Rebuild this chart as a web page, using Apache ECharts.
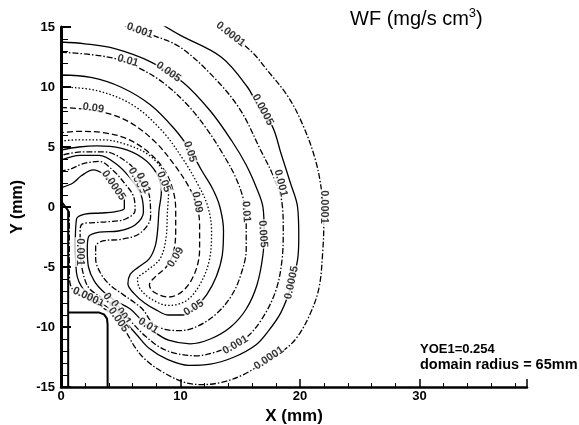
<!DOCTYPE html>
<html><head><meta charset="utf-8">
<script src="https://cdn.jsdelivr.net/npm/echarts@6/dist/echarts.min.js"></script>
<style>html,body{margin:0;padding:0;background:#fff}#c{width:579px;height:425px}</style>
</head><body><div id="c"></div>
<script>
// ---- data (mm) ----
var xTicks = [0, 10, 20, 30];
var yTicks = [-15, -10, -5, 0, 5, 10, 15];
var levels = ['0.0001', '0.0005', '0.001', '0.005', '0.01', '0.05', '0.07', '0.09'];

var c0001 = [[13.2,15.3],[14.5,14.2],[16.1,12.8],[17.1,11.6],[19.0,9.2],[20.3,6.7],[21.3,3.9],[21.8,1.4],[22.0,-1.1],[21.9,-3.8],[21.6,-6.7],[20.9,-8.8],[19.8,-10.8],[18.7,-11.9],[17.1,-12.9],[15.2,-14.0],[13.5,-14.6],[11.8,-14.8],[10.3,-14.6],[8.5,-13.75],[7.1,-12.75],[6.2,-11.7],[5.5,-10.5],[4.8,-9.5],[4.1,-8.8],[2.5,-7.8],[0.9,-6.75],[0.7,-5.5],[0.7,-3.0],[0.7,-0.3]];
var c0005 = [[8.3,15.3],[10.0,14.3],[13.4,12.5],[15.6,10.0],[16.6,8.2],[17.7,6.7],[18.4,4.5],[19.2,2.0],[19.8,0],[19.9,-2.5],[19.8,-4.4],[19.3,-6.5],[18.4,-8.8],[17.3,-10.4],[16.3,-11.5],[14.5,-12.5],[12.5,-13.1],[10.7,-13.2],[8.9,-12.7],[7.4,-11.8],[6.3,-10.6],[5.2,-9.4],[4.3,-8.6],[3.0,-7.8],[1.9,-6.9],[1.3,-5.5],[1.2,-3.0],[1.3,-1.0],[2.0,-0.6],[3.3,-0.5],[4.5,-0.4],[5.3,-0.1],[5.3,0.6],[4.5,1.7],[3.6,2.7],[2.7,3.1],[1.7,2.6],[1.0,2.0],[0,1.6]];
var c001 = [[5.0,15.3],[5.6,15.0],[7.7,14.3],[10.0,13.3],[12.8,10.8],[15.0,8.1],[16.7,4.75],[17.8,2.5],[18.5,0.3],[18.6,-1.9],[18.5,-4.4],[18.0,-6.9],[16.9,-9.2],[15.5,-10.9],[14.2,-11.6],[12.9,-12.1],[11.3,-12.4],[9.6,-12.2],[8.3,-11.7],[7.1,-10.8],[6.1,-9.8],[5.4,-9.0],[4.4,-8.2],[3.3,-7.5],[2.3,-6.7],[1.8,-5.3],[1.6,-3.7],[1.6,-1.9],[1.8,-1.4],[2.8,-1.3],[4.2,-1.2],[5.4,-1.0],[6.2,-0.3],[6.1,0.8],[5.3,2.0],[4.3,3.1],[3.2,3.8],[1.8,3.6],[0.9,3.2],[0,3.0]];
var c005 = [[0,13.75],[2.0,13.6],[4.5,13.2],[7.5,12.1],[10.2,10.4],[12.5,8.0],[14.3,5.5],[15.5,3.5],[16.4,1.5],[16.9,0],[17.0,-2.0],[16.9,-4.0],[16.4,-6.5],[15.5,-8.5],[14.2,-10.0],[12.5,-11.0],[10.8,-11.4],[9.0,-11.1],[7.8,-10.4],[6.8,-9.5],[5.8,-8.5],[4.7,-7.9],[3.6,-7.1],[2.8,-6.2],[2.3,-5.0],[2.2,-3.5],[2.3,-2.5],[3.2,-2.1],[4.8,-2.0],[6.2,-1.5],[6.9,-0.4],[6.7,1.0],[5.8,2.4],[4.6,3.6],[3.2,4.3],[1.6,4.3],[0,3.9]];
var c01 = [[0,12.9],[2.5,12.7],[4.8,12.3],[6.5,11.6],[8.5,10.4],[10.5,8.6],[12.2,6.5],[13.5,4.5],[14.6,2.5],[15.3,0.5],[15.5,-1.5],[15.5,-3.5],[15.0,-5.8],[14.2,-7.5],[13.0,-8.9],[11.5,-9.9],[10.0,-10.3],[8.7,-10.2],[7.6,-9.6],[6.9,-8.6],[6.2,-8.0],[5.2,-7.3],[4.1,-6.5],[3.3,-5.5],[2.9,-4.3],[2.9,-3.3],[3.6,-2.8],[5.0,-2.7],[6.6,-2.2],[7.5,-0.8],[7.4,0.9],[6.6,2.6],[5.3,3.9],[3.6,4.6],[1.8,4.6],[0,4.3]];
var c05 = [[0,11.0],[2.5,10.8],[5.0,10.0],[7.5,8.5],[9.5,6.5],[10.8,4.75],[11.8,3.0],[12.7,1.5],[13.3,0],[13.6,-2.0],[13.5,-4.0],[13.0,-5.8],[12.2,-7.3],[11.2,-8.4],[10.2,-9.0],[9.0,-9.0],[8.0,-8.6],[7.0,-8.0],[6.1,-7.2],[5.6,-6.4],[5.8,-5.6],[6.5,-5.0],[7.4,-4.3],[7.9,-3.2],[8.1,-1.8],[8.2,-0.3],[8.4,1.3],[8.0,2.8],[6.8,4.1],[5.0,4.9],[3.0,5.1],[1.5,5.0],[0,4.75]];
var c07 = [[0,10.0],[3,9.7],[6,8.5],[8.5,6.3],[10.2,4.0],[11.5,1.8],[12.3,0],[12.6,-2],[12.4,-4.5],[11.6,-6.5],[10.5,-7.8],[9.0,-8.2],[7.6,-7.7],[6.6,-6.8],[6.4,-6.0],[7.2,-5.3],[8.3,-4.3],[8.8,-2.5],[8.9,-0.5],[9.0,1.2],[8.6,2.9],[7.4,4.3],[5.5,5.2],[3.5,5.6],[1.5,5.6],[0,5.5]];
var c09 = [[0,8.3],[3.0,8.0],[5.5,7.2],[7.8,5.5],[9.5,3.5],[10.8,1.5],[11.4,0],[11.6,-1.5],[11.6,-3.5],[11.2,-5.5],[10.2,-7.0],[9.0,-7.5],[7.8,-7.1],[7.4,-6.5],[7.9,-5.8],[8.8,-5.0],[9.4,-3.8],[9.6,-2.0],[9.6,-0.3],[9.4,1.3],[8.7,3.0],[7.4,4.5],[5.5,5.7],[3.5,6.2],[1.5,6.3],[0,6.2]];

var wallBlock = [[0.6,-15.5],[0.6,-8.8],[3.2,-8.8],[3.6,-8.95],[3.85,-9.3],[3.9,-9.8],[3.9,-15.5]];
var wallInner = [[0,0.5],[0.6,-0.3],[0.6,-8.8]];

var labelX    = [14.2, 6.6, 5.6, 9.0, 16.9, 2.7, 10.8, 18.4, 22.0, 15.5, 16.9, 11.4, 19.3, 14.6, 17.4, 11.1, 9.6, 7.3, 2.3, 4.5, 5.0, 4.8, 1.6, 4.4, 6.4, 6.9, 8.6];
var labelY    = [14.4, 14.7, 12.2, 11.25, 8.1, 8.25, 4.6, 2.0, 0.0, -0.4, -2.25, 0.4, -6.3, -11.5, -12.6, -8.4, -4.2, -9.9, -7.5, -8.4, -8.8, -9.4, -3.75, 1.8, 2.2, 2.0, 2.1];
var labelText = ['0.0001','0.001','0.01','0.005','0.0005','0.09','0.05','0.001','0.0001','0.01','0.005','0.09','0.0005','0.001','0.0001','0.05','0.09','0.01','0.0001','0.0005','0.001','0.005','0.001','0.0005','0.005','0.01','0.05'];
var labelAngle = [-38, -20, -15, -35, -62, -8, -72, -76, -90, -86, -86, -80, 78, 30, 34, 32, 58, -32, -25, -55, -55, -55, -90, -55, -62, -66, -68];

// ---- chart ----
var font = 'Liberation Sans, Arial, sans-serif';
var contourList = [c0001, c0005, c001, c005, c01, c05, c07, c09];
var dashDot = [6, 2, 1.5, 2];
var styles = [dashDot, 'solid', dashDot, 'solid', dashDot, 'solid', [1.5, 2], [6, 3]];

var series = contourList.map(function (pts, i) {
  return {
    type: 'line', name: levels[i], data: pts, smooth: 0.35, showSymbol: false, symbol: 'none',
    lineStyle: { color: '#000', width: 1.3, type: styles[i] }, z: 2, silent: true
  };
});
series.push({ type: 'line', data: wallBlock, showSymbol: false, symbol: 'none', smooth: false,
  lineStyle: { color: '#000', width: 2 }, z: 3, silent: true });
series.push({ type: 'line', data: wallInner, showSymbol: false, symbol: 'none', smooth: false,
  lineStyle: { color: '#000', width: 2 }, z: 3, silent: true });

var labelData = labelX.map(function (x, i) {
  return { value: [x, labelY[i], labelText[i]], label: { rotate: labelAngle[i] } };
});
series.push({
  type: 'scatter', data: labelData, symbolSize: 0, z: 5, silent: true,
  label: { show: true, position: 'inside', formatter: function (p) { return p.value[2]; },
    color: '#000', fontSize: 11, fontWeight: 'bold', fontFamily: font, backgroundColor: '#fff', padding: [0, 1] }
});

var chart = echarts.init(document.getElementById('c'), null, { renderer: 'canvas' });
chart.setOption({
  animation: false,
  backgroundColor: '#fff',
  grid: { left: 61, right: 52, top: 27, bottom: 38, containLabel: false, outerBoundsMode: 'none' },
  xAxis: {
    type: 'value', min: 0, max: 39, interval: 10,
    name: 'X (mm)', nameLocation: 'middle', nameGap: 21,
    nameTextStyle: { fontFamily: font, fontWeight: 'bold', fontSize: 17, color: '#000' },
    axisLine: { onZero: false, lineStyle: { color: '#000', width: 2.5 } },
    axisTick: { inside: true, length: 8, lineStyle: { color: '#000', width: 1.5 } },
    minorTick: { show: true, splitNumber: 5, length: 4, lineStyle: { color: '#000', width: 1 } },
    axisLabel: { fontFamily: font, fontWeight: 'bold', fontSize: 13, color: '#000', margin: 3, showMaxLabel: false },
    splitLine: { show: false }
  },
  yAxis: {
    type: 'value', min: -15, max: 15, interval: 5,
    name: 'Y (mm)', nameLocation: 'middle', nameGap: 35, nameRotate: 90,
    nameTextStyle: { fontFamily: font, fontWeight: 'bold', fontSize: 16, color: '#000' },
    axisLine: { onZero: false, lineStyle: { color: '#000', width: 3 } },
    axisTick: { inside: true, length: 10, lineStyle: { color: '#000', width: 2 } },
    minorTick: { show: true, splitNumber: 5, length: 7, lineStyle: { color: '#000', width: 1 } },
    axisLabel: { fontFamily: font, fontWeight: 'bold', fontSize: 13, color: '#000', margin: 6 },
    splitLine: { show: false }
  },
  graphic: [
    { type: 'text', left: 350, top: 7, style: {
      text: '{a|WF (mg/s cm}{s|3}{a|)}',
      rich: { a: { font: '20px ' + font, fill: '#000', verticalAlign: 'bottom' },
              s: { font: '13px ' + font, fill: '#000', verticalAlign: 'top', padding: [0, 0, 9, 0] } } } },
    { type: 'text', left: 420, top: 343, style: { text: 'YOE1=0.254', font: 'bold 13px ' + font, fill: '#000' } },
    { type: 'text', left: 420, top: 357, style: { text: 'domain radius = 65mm', font: 'bold 14.5px ' + font, fill: '#000' } }
  ],
  series: series
});
</script></body></html>
